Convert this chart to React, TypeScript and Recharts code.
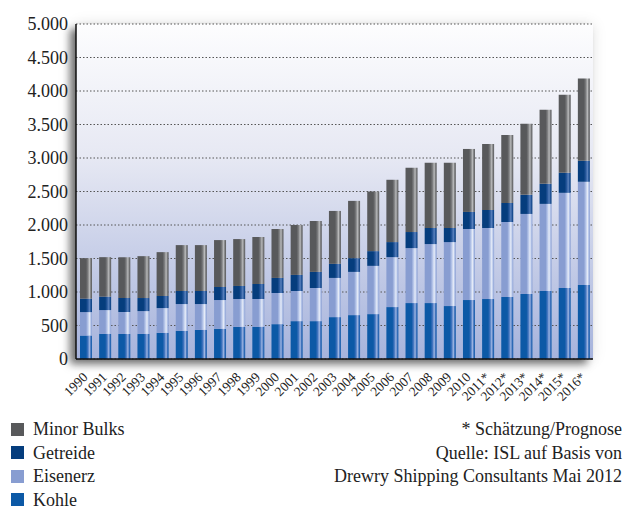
import React from 'react';
import { BarChart, Bar, XAxis, YAxis, CartesianGrid } from 'recharts';

const years = ['1990','1991','1992','1993','1994','1995','1996','1997','1998','1999','2000','2001','2002','2003','2004','2005','2006','2007','2008','2009','2010','2011*','2012*','2013*','2014*','2015*','2016*'];
const kohle =    [350,375,375,375,390,420,435,450,480,480,520,565,565,625,655,670,775,835,835,790,880,895,925,970,1015,1060,1105];
const eisenerz = [350,355,325,340,370,400,385,430,415,415,465,450,495,585,645,720,745,820,880,955,1060,1060,1120,1195,1300,1420,1540];
const getreide = [200,200,210,195,180,195,195,195,195,225,225,240,240,210,205,220,225,240,240,210,255,270,285,285,300,300,315];
const minorBulks=[605,590,610,625,655,685,685,700,700,700,730,745,760,790,855,890,930,960,975,975,940,985,1015,1060,1105,1165,1225];
const yTicks = [0,500,1000,1500,2000,2500,3000,3500,4000,4500,5000];

const data = years.map((y, i) => ({
  year: y,
  kohle: kohle[i],
  eisenerz: eisenerz[i],
  getreide: getreide[i],
  minor: minorBulks[i],
}));

const SERIF = '"Liberation Serif", "Times New Roman", serif';

const fmt = (v: number) => {
  const s = String(v);
  return s.length > 3 ? s.slice(0, s.length - 3) + '.' + s.slice(s.length - 3) : s;
};

const series = [
  { key: 'kohle', name: 'Kohle', base: '#0c59a6', mid: '#3f72bd', hi: '#9db5e2' },
  { key: 'eisenerz', name: 'Eisenerz', base: '#889dd1', mid: '#b3c3e8', hi: '#e6ecf8' },
  { key: 'getreide', name: 'Getreide', base: '#053d7d', mid: '#25569a', hi: '#5a82bd' },
  { key: 'minor', name: 'Minor Bulks', base: '#58595b', mid: '#7a7b7d', hi: '#b9babb' },
];

const legendOrder = ['minor', 'getreide', 'eisenerz', 'kohle'];

const XTick = (props: any) => {
  const { x, y, payload } = props;
  const ax = x + 3;
  const ay = y + 11;
  return (
    <text
      x={ax}
      y={ay}
      transform={`rotate(-45, ${ax}, ${ay})`}
      textAnchor="end"
      fontFamily="Liberation Serif"
      style={{ fontFamily: SERIF, fontSize: 13.5, fill: '#222' }}
    >
      {payload.value}
    </text>
  );
};

const YTick = (props: any) => {
  const { x, y, payload } = props;
  return (
    <text
      x={x}
      y={y}
      dy={6}
      textAnchor="end"
      fontFamily="Liberation Serif"
      style={{ fontFamily: SERIF, fontSize: 18, fill: '#222' }}
    >
      {fmt(payload.value)}
    </text>
  );
};

const PLOT = { left: 76, top: 24, right: 593, bottom: 359 };

export default function App() {
  return (
    <div style={{ position: 'absolute', left: 0, top: 0, width: 626, height: 508, background: '#fff', fontFamily: SERIF }}>
      <div
        style={{
          position: 'absolute',
          left: PLOT.left,
          top: PLOT.top,
          width: PLOT.right - PLOT.left,
          height: PLOT.bottom - PLOT.top,
          boxShadow: '-6px 5px 8px rgba(0,0,0,0.55), 0 0 14px rgba(0,0,0,0.10)',
        }}
      />
      <div style={{ position: 'absolute', left: 0, top: 0 }}>
        <BarChart
          width={626}
          height={415}
          data={data}
          margin={{ top: 24, right: 33, bottom: 16, left: 0 }}
          barSize={12}
          style={{ fontFamily: SERIF }}
        >
          <defs>
            <linearGradient id="bgGrad" x1="0" y1="0" x2="0" y2="1">
              <stop offset="0%" stopColor="#fdfdfe" />
              <stop offset="40%" stopColor="#e6e8f3" />
              <stop offset="100%" stopColor="#a6b3dc" />
            </linearGradient>
            {series.map((s) => (
              <linearGradient key={s.key} id={`g-${s.key}`} x1="0" y1="0" x2="1" y2="0">
                <stop offset="0%" stopColor={s.base} />
                <stop offset="50%" stopColor={s.base} />
                <stop offset="65%" stopColor={s.mid} />
                <stop offset="80%" stopColor={s.hi} />
                <stop offset="90%" stopColor={s.mid} />
                <stop offset="100%" stopColor={s.base} />
              </linearGradient>
            ))}
          </defs>
          <CartesianGrid
            vertical={false}
            fill="url(#bgGrad)"
            fillOpacity={1}
            stroke="#555"
            strokeDasharray="1.5 2"
          />
          <XAxis
            dataKey="year"
            interval={0}
            height={40}
            tickLine={false}
            axisLine={{ stroke: '#111', strokeWidth: 1.5 }}
            tick={<XTick />}
          />
          <YAxis
            width={76}
            domain={[0, 5000]}
            ticks={yTicks}
            tickLine={false}
            axisLine={{ stroke: '#111', strokeWidth: 1.5 }}
            tick={<YTick />}
          />
          {series.map((s) => (
            <Bar
              key={s.key}
              dataKey={s.key}
              name={s.name}
              stackId="a"
              fill={`url(#g-${s.key})`}
              isAnimationActive={false}
            />
          ))}
        </BarChart>
      </div>
      {legendOrder.map((k, i) => {
        const s = series.find((q) => q.key === k)!;
        return (
          <div
            key={k}
            style={{
              position: 'absolute',
              left: 11,
              top: 422 + i * 23.5,
              height: 14,
              lineHeight: '14px',
              display: 'flex',
              alignItems: 'center',
              fontSize: 18,
              color: '#222',
              whiteSpace: 'nowrap',
            }}
          >
            <span style={{ display: 'inline-block', width: 13, height: 13, background: s.base, marginRight: 9 }} />
            <span>{s.name}</span>
          </div>
        );
      })}
      {['* Schätzung/Prognose', 'Quelle: ISL auf Basis von', 'Drewry Shipping Consultants Mai 2012'].map((t, i) => (
        <div
          key={i}
          style={{
            position: 'absolute',
            right: 4,
            top: 422 + i * 23.5,
            height: 14,
            lineHeight: '14px',
            fontSize: 18,
            color: '#222',
            whiteSpace: 'nowrap',
            textAlign: 'right',
          }}
        >
          {t}
        </div>
      ))}
    </div>
  );
}
